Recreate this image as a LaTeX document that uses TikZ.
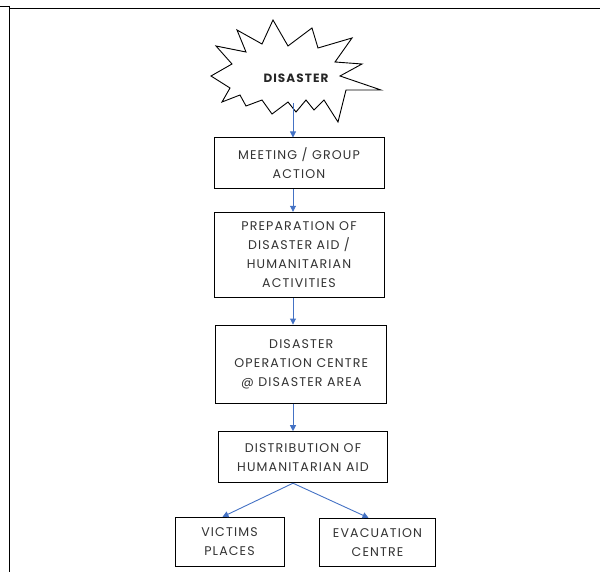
\documentclass[tikz,border=0pt]{standalone}
\usepackage{fontspec}
\setmainfont{Poppins}[LetterSpace=9]
\usetikzlibrary{arrows.meta}
\definecolor{linkblue}{HTML}{4472C4}

\begin{document}
\begin{tikzpicture}
  [x=1pt,y=-1pt,
   every node/.style={font=\fontsize{12.6}{19}\selectfont,align=center,text=black!80},
   box/.style={draw=black,line width=1pt,inner sep=2pt}]
  \useasboundingbox (0,0) rectangle (600,572);
  % frame of the table cell
  \draw[line width=1.6pt] (0,6.5) -- (10,6.5);
  \draw[line width=1.6pt] (9.5,6) -- (9.5,572);
  \draw[line width=1.6pt] (9,8.5) -- (600,8.5);
  % explosion
  \draw[line width=0.9pt,line join=miter]
    (273,20) -- (288,46) -- (312,28) -- (318,48) -- (352,38) -- (335,62)
    -- (362,64) -- (340,76) -- (381,90) -- (346,90) -- (338,122) -- (324,100)
    -- (314,110) -- (306,100) -- (296,112) -- (288,102) -- (272,114) -- (262,100)
    -- (246,106) -- (240,95) -- (222,102) -- (230,88) -- (211,76) -- (232,64)
    -- (216,46) -- (246,52) -- (237,30) -- (262,44) -- cycle;
  \node[font=\fontsize{12}{14}\bfseries,text=black!85] (disaster) at (296,78) {DISASTER};
  \coordinate (starfoot) at (293,103);
  \coordinate (spine) at (293,0);

  \node[box,minimum width=170,minimum height=51] (meet) at (299,163.5)
    {MEETING / GROUP\\ACTION};
  \node[box,minimum width=170,minimum height=85.4] (prep) at (299,255)
    {PREPARATION OF\\DISASTER AID /\\HUMANITARIAN\\ACTIVITIES};
  \node[box,minimum width=170.7,minimum height=78.3] (centre) at (301.3,364.2)
    {DISASTER\\OPERATION CENTRE\\@ DISASTER AREA};
  \node[box,minimum width=169.4,minimum height=51] (dist) at (303,457.2)
    {DISTRIBUTION OF\\HUMANITARIAN AID};
  \node[box,minimum width=109,minimum height=48.7] (victims) at (229.5,541.7)
    {VICTIMS\\PLACES};
  \node[box,minimum width=116.4,minimum height=48.4] (evac) at (377.5,542.5)
    {EVACUATION\\CENTRE};

 \path[every edge/.style={draw=linkblue,line width=0.9pt,-{Triangle[length=6pt,width=6pt]}}]
        (starfoot) edge (meet.north -| spine)
        (meet.south -| spine) edge (prep.north -| spine)
        (prep.south -| spine) edge (centre.north -| spine)
        (centre.south -| spine) edge (dist.north -| spine)
        (dist.south -| spine) edge ([xshift=-7pt]victims.north)
        (dist.south -| spine) edge ([xshift=-9pt]evac.north);

\end{tikzpicture}
\end{document}
